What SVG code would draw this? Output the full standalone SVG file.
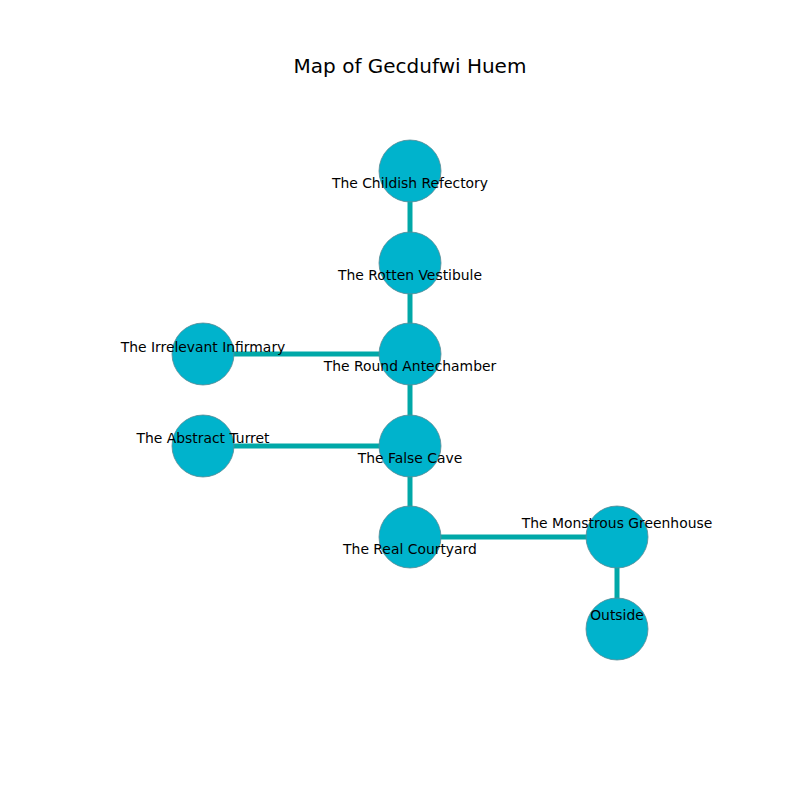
<svg xmlns="http://www.w3.org/2000/svg" width="800" height="800" viewBox="0 0 800 800">
<style>
.e{stroke:#00a8a8;stroke-width:5;fill:none}
.n{fill:#00b3cc;stroke:#5a8a94;stroke-width:0.8}
.l{font-family:"DejaVu Sans",sans-serif;font-size:13.9px;fill:#000;text-anchor:middle}
.t{font-family:"DejaVu Sans",sans-serif;font-size:20px;fill:#000;text-anchor:middle}
</style>
<rect width="800" height="800" fill="#fff"/>
<text class="t" x="410" y="73">Map of Gecdufwi Huem</text>
<g id="edges">
<line class="e" x1="410" y1="171" x2="410" y2="263"/>
<line class="e" x1="410" y1="263" x2="410" y2="354"/>
<line class="e" x1="203" y1="354" x2="410" y2="354"/>
<line class="e" x1="410" y1="354" x2="410" y2="446"/>
<line class="e" x1="203" y1="446" x2="410" y2="446"/>
<line class="e" x1="410" y1="446" x2="410" y2="537"/>
<line class="e" x1="410" y1="537" x2="617" y2="537"/>
<line class="e" x1="617" y1="537" x2="617" y2="629"/>
</g>
<g id="n1"><circle class="n" cx="410" cy="171" r="31"/><text class="l" x="410" y="188">The Childish Refectory</text></g>
<g id="n2"><circle class="n" cx="410" cy="263" r="31"/><text class="l" x="410" y="280">The Rotten Vestibule</text></g>
<g id="n3"><circle class="n" cx="410" cy="354" r="31"/><text class="l" x="410" y="371">The Round Antechamber</text></g>
<g id="n4"><circle class="n" cx="203" cy="354" r="31"/><text class="l" x="203" y="352">The Irrelevant Infirmary</text></g>
<g id="n5"><circle class="n" cx="203" cy="446" r="31"/><text class="l" x="203" y="443">The Abstract Turret</text></g>
<g id="n6"><circle class="n" cx="410" cy="446" r="31"/><text class="l" x="410" y="463">The False Cave</text></g>
<g id="n7"><circle class="n" cx="410" cy="537" r="31"/><text class="l" x="410" y="554">The Real Courtyard</text></g>
<g id="n8"><circle class="n" cx="617" cy="537" r="31"/><text class="l" x="617" y="528">The Monstrous Greenhouse</text></g>
<g id="n9"><circle class="n" cx="617" cy="629" r="31"/><text class="l" x="617" y="620">Outside</text></g>
</svg>
